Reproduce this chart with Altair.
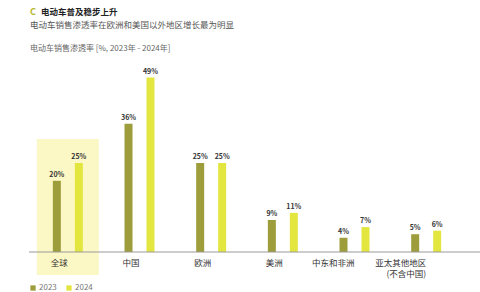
import altair as alt
import pandas as pd

regions = ["全球", "中国", "欧洲", "美洲", "中东和非洲", "亚太其他地区\n(不含中国)"]
years = ["2023", "2024"]
v2023 = [20, 36, 25, 9, 4, 5]
v2024 = [25, 49, 25, 11, 7, 6]

rows = []
for r, a, b in zip(regions, v2023, v2024):
    rows.append({"region": r, "year": "2023", "value": a, "label": f"{a}%"})
    rows.append({"region": r, "year": "2024", "value": b, "label": f"{b}%"})
df = pd.DataFrame(rows)

FONT = "Noto Sans CJK SC"
C23 = "#9e9d3c"
C24 = "#e4e640"

xenc = alt.X("region:N", sort=regions, title=None,
             scale=alt.Scale(paddingInner=0, paddingOuter=0),
             axis=alt.Axis(domain=False, ticks=False, labelAngle=0, labelFont=FONT,
                           labelFontSize=8.5, labelColor="#333", labelPadding=10,
                           labelLineHeight=11, zindex=2,
                           labelExpr="split(datum.label, '\\n')"))
yscale = alt.Scale(domain=[0, 50])
xoff = alt.XOffset("year:N", sort=years,
                   scale=alt.Scale(paddingInner=0, paddingOuter=0.63))

base = alt.Chart(df)

highlight = alt.Chart(pd.DataFrame({"region": ["全球"]})).mark_bar(
    width=62, color="#fcf8c6").encode(
    x=alt.X("region:N", sort=regions), y=alt.value(65), y2=alt.value(201))

bars = base.mark_bar(width=8).encode(
    x=xenc,
    xOffset=xoff,
    y=alt.Y("value:Q", scale=yscale, axis=None),
    color=alt.Color("year:N", sort=years,
                    scale=alt.Scale(domain=years, range=[C23, C24]),
                    legend=alt.Legend(title=None, orient="none", direction="horizontal",
                                      legendX=-3, legendY=210, symbolType="square",
                                      symbolSize=28, symbolStrokeWidth=0,
                                      labelFont=FONT, labelFontSize=8,
                                      labelColor="#777", columnPadding=8,
                                      symbolOffset=0, labelOffset=2)),
)

texts = base.mark_text(dy=-6, font=FONT, fontSize=7, fontWeight="bold",
                       color="#333").encode(
    x=alt.X("region:N", sort=regions),
    xOffset=xoff,
    y=alt.Y("value:Q", scale=yscale),
    text="label:N",
)

baseline = alt.Chart(pd.DataFrame({"a": [0]})).mark_rule(
    color="#999", strokeWidth=1).encode(
    x=alt.value(-3), x2=alt.value(448), y=alt.value(178))

title_c = alt.Chart(pd.DataFrame({"t": ["C"]})).mark_text(
    align="left", font=FONT, fontSize=9, fontWeight="bold", color="#b6b52e").encode(
    x=alt.value(-2), y=alt.value(-62), text="t:N")
title_main = alt.Chart(pd.DataFrame({"t": ["电动车普及稳步上升"]})).mark_text(
    align="left", font=FONT, fontSize=8.5, fontWeight="bold", color="#222").encode(
    x=alt.value(9), y=alt.value(-62), text="t:N")
subtitle = alt.Chart(pd.DataFrame({"t": ["电动车销售渗透率在欧洲和美国以外地区增长最为明显"]})).mark_text(
    align="left", font=FONT, fontSize=8.5, color="#555").encode(
    x=alt.value(-2), y=alt.value(-49), text="t:N")
unit = alt.Chart(pd.DataFrame({"t": ["电动车销售渗透率 [%, 2023年 - 2024年]"]})).mark_text(
    align="left", font=FONT, fontSize=8, color="#666").encode(
    x=alt.value(-2), y=alt.value(-25), text="t:N")

chart = alt.layer(highlight, bars, texts, baseline, title_c, title_main, subtitle, unit).properties(
    width=430, height=178,
    padding={"left": 32, "top": 74, "right": 18, "bottom": 40},
    autosize=alt.AutoSizeParams(type="none"),
    background="white",
).configure_view(stroke=None)

chart.save("out.html", embed_options={"renderer": "svg", "actions": False})
